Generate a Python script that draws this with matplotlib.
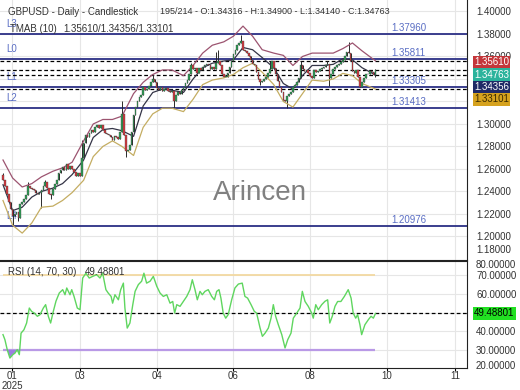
import matplotlib
matplotlib.use("Agg")
import matplotlib.pyplot as plt
import numpy as np

plt.rcParams["font.family"] = ["Liberation Sans", "DejaVu Sans"]

# ---- price data (daily candles, bar index 0..194) ----
first_open = 1.2550
closes = [
    1.2505, 1.2450, 1.2380, 1.2310, 1.2240, 1.2180, 1.2200, 1.2220, 1.2160, 1.2290,
    1.2310, 1.2330, 1.2370, 1.2450, 1.2430, 1.2420, 1.2410, 1.2390, 1.2380, 1.2390,
    1.2410, 1.2450, 1.2480, 1.2430, 1.2380, 1.2370, 1.2420, 1.2470, 1.2500, 1.2560,
    1.2590, 1.2620, 1.2590, 1.2640, 1.2600, 1.2630, 1.2600, 1.2570, 1.2540, 1.2560,
    1.2540, 1.2700, 1.2830, 1.2900, 1.2880, 1.2920, 1.2950, 1.2930, 1.2970, 1.2990,
    1.2960, 1.2990, 1.2950, 1.2920, 1.2910, 1.2900, 1.2880, 1.2860, 1.2890, 1.2880,
    1.2870, 1.2930, 1.3090, 1.2900, 1.2760, 1.2770, 1.2810, 1.2930, 1.3080, 1.3150,
    1.3200, 1.3240, 1.3260, 1.3330, 1.3300, 1.3310, 1.3340, 1.3370, 1.3400, 1.3370,
    1.3320, 1.3300, 1.3330, 1.3290, 1.3310, 1.3320, 1.3290, 1.3280, 1.3290, 1.3200,
    1.3260, 1.3280, 1.3270, 1.3300, 1.3330, 1.3360, 1.3390, 1.3440, 1.3520, 1.3490,
    1.3500, 1.3450, 1.3500, 1.3480, 1.3510, 1.3520, 1.3530, 1.3520, 1.3490, 1.3510,
    1.3490, 1.3540, 1.3560, 1.3520, 1.3440, 1.3420, 1.3420, 1.3450, 1.3510, 1.3560,
    1.3620, 1.3660, 1.3700, 1.3720, 1.3740, 1.3660, 1.3650, 1.3630, 1.3600, 1.3570,
    1.3530, 1.3520, 1.3460, 1.3400, 1.3370, 1.3380, 1.3400, 1.3420, 1.3450, 1.3490,
    1.3560, 1.3500, 1.3440, 1.3380, 1.3330, 1.3280, 1.3210, 1.3200, 1.3250, 1.3270,
    1.3280, 1.3330, 1.3350, 1.3370, 1.3410, 1.3520, 1.3490, 1.3470, 1.3480, 1.3450,
    1.3430, 1.3410, 1.3480, 1.3460, 1.3470, 1.3490, 1.3500, 1.3510, 1.3520, 1.3530,
    1.3410, 1.3440, 1.3490, 1.3510, 1.3520, 1.3530, 1.3550, 1.3570, 1.3600, 1.3640,
    1.3630, 1.3560, 1.3470, 1.3450, 1.3480, 1.3420, 1.3330, 1.3370, 1.3410, 1.3440,
    1.3445, 1.3470, 1.3460, 1.34316, 1.34763,
]
wick_highs = {0: 1.2560, 13: 1.2480, 22: 1.2500, 41: 1.2860, 62: 1.3205, 78: 1.3445,
              98: 1.3540, 111: 1.3640, 112: 1.3660, 124: 1.3789, 139: 1.3560,
              155: 1.3560, 169: 1.3560, 180: 1.3726, 194: 1.3490}
wick_lows = {5: 1.2100, 8: 1.2140, 20: 1.2250, 25: 1.2330, 64: 1.2708, 89: 1.3140,
             116: 1.3420, 134: 1.3350, 148: 1.3142, 170: 1.3335, 186: 1.3325,
             194: 1.3414}

# ---- TMAB(10) bands ----
band_bars = [0, 5, 10, 15, 20, 26, 31, 36, 42, 47, 52, 57, 62, 68, 73, 78, 83, 88, 94,
             99, 104, 109, 115, 120, 125, 130, 135, 141, 146, 151, 156, 161, 167, 172,
             177, 182, 187, 194]
upper_band = [1.268, 1.252, 1.244, 1.247, 1.253, 1.258, 1.261, 1.266, 1.285, 1.300,
              1.304, 1.304, 1.307, 1.327, 1.337, 1.344, 1.348, 1.348, 1.343, 1.352,
              1.363, 1.370, 1.373, 1.378, 1.387, 1.378, 1.366, 1.363, 1.361, 1.352,
              1.360, 1.363, 1.363, 1.363, 1.367, 1.372, 1.365, 1.3561]
mid_band = [1.246, 1.223, 1.226, 1.235, 1.240, 1.243, 1.247, 1.255, 1.268, 1.288,
            1.295, 1.296, 1.294, 1.289, 1.316, 1.328, 1.331, 1.330, 1.328, 1.340,
            1.350, 1.354, 1.356, 1.357, 1.368, 1.366, 1.359, 1.350, 1.336, 1.331,
            1.343, 1.352, 1.352, 1.353, 1.358, 1.357, 1.350, 1.34356]
lower_band = [1.232, 1.210, 1.203, 1.212, 1.226, 1.227, 1.232, 1.239, 1.250, 1.271,
              1.280, 1.285, 1.280, 1.272, 1.297, 1.309, 1.314, 1.314, 1.311, 1.322,
              1.335, 1.339, 1.341, 1.344, 1.350, 1.354, 1.346, 1.335, 1.320, 1.315,
              1.327, 1.339, 1.338, 1.340, 1.345, 1.343, 1.336, 1.33101]

# ---- RSI(14) ----
rsi_bars = [0, 1.0, 2.2, 3.6, 5.1, 6.3, 7.4, 8.5, 9.4, 10.9, 12.3, 13.7, 14.9, 16.3,
            17.9, 19.3, 21.0, 22.2, 23.6, 24.8, 26.2, 27.6, 29.3, 31.1, 32.3, 33.2,
            34.9, 35.8, 37.0, 38.7, 40.1, 41.5, 43.2, 44.9, 46.7, 48.8, 50.5, 51.9,
            53.6, 54.8, 56.3, 57.1, 58.3, 60.1, 61.3, 62.7, 63.5, 64.7, 66.1, 67.6,
            68.8, 70.5, 72.2, 73.4, 74.8, 76.6, 78.3, 80.1, 81.8, 83.5, 85.3, 87.0,
            88.4, 89.4, 90.5, 92.2, 93.9, 95.7, 97.4, 98.6, 100.0, 101.2, 102.6,
            103.8, 105.2, 106.9, 108.7, 110.1, 111.3, 112.5, 113.5, 114.7, 116.0,
            117.3, 119.1, 120.8, 122.6, 124.6, 126.0, 127.4, 129.2, 130.9, 132.1,
            133.9, 135.1, 136.5, 138.2, 139.6, 140.8, 142.0, 143.4, 145.2, 146.9,
            148.3, 150.0, 151.2, 153.0, 154.7, 155.9, 157.3, 159.0, 160.8, 161.6,
            162.9, 164.2, 166.0, 167.7, 169.1, 170.2, 171.5, 172.9, 174.3, 176.0,
            177.8, 179.8, 181.3, 182.4, 183.7, 184.7, 185.9, 186.8, 188.5, 190.3,
            191.7, 192.9, 194.0]
rsi_values = [38.2, 35.5, 30.2, 25.7, 27.5, 28.4, 30.2, 27.5, 39.0, 40.8, 44.4, 52.4,
              50.6, 49.7, 48.0, 48.9, 52.4, 54.2, 48.0, 44.4, 50.6, 56.1, 60.4, 62.2,
              59.5, 63.1, 59.5, 62.2, 58.6, 52.4, 51.5, 68.4, 71.0, 68.4, 69.3, 70.2,
              68.4, 71.0, 62.2, 60.4, 58.6, 55.0, 59.5, 56.8, 62.2, 65.7, 52.4, 41.7,
              44.4, 54.2, 61.3, 64.9, 66.7, 71.0, 65.7, 66.7, 69.3, 64.0, 60.4, 58.6,
              59.5, 55.0, 55.9, 49.7, 54.2, 53.3, 55.9, 58.6, 62.2, 67.5, 62.2, 56.8,
              61.3, 59.5, 61.3, 62.2, 58.6, 56.8, 61.3, 62.2, 57.7, 49.7, 47.0, 48.9,
              56.8, 63.1, 65.2, 65.7, 58.6, 57.7, 54.2, 50.6, 49.7, 41.7, 37.3, 39.0,
              41.7, 47.0, 54.2, 48.0, 43.5, 38.2, 31.1, 35.5, 39.0, 47.0, 49.7, 52.4,
              61.3, 55.9, 53.3, 49.7, 47.0, 54.2, 51.5, 54.2, 56.0, 56.8, 44.4, 48.0,
              53.3, 55.9, 55.9, 58.6, 62.2, 57.7, 49.7, 47.0, 48.9, 43.5, 38.2, 43.5,
              46.2, 48.0, 47.0, 49.49]
rsi_last = 49.48801

# ---- levels and labels ----
level_values = [1.37960, 1.35811, 1.33305, 1.31413, 1.20976]
level_names = ["L3", "L0", "L1", "L2", "L4"]
band_last = [1.35610, 1.34763, 1.34356, 1.33101]
tag_colors = ["#c4363a", "#2bb39c", "#1f2a66", "#d6a21e"]
tag_text_colors = ["white", "white", "white", "#3a2a00"]
tag_centers_px = [62, 74.5, 87, 99.5]
price_ticks = [1.20, 1.22, 1.24, 1.26, 1.28, 1.30, 1.32, 1.34, 1.36, 1.38, 1.40]
hidden_price_ticks = [1.32, 1.34]          # sit behind the value tags
rsi_ticks = [30, 40, 50, 60, 70]
hidden_rsi_ticks = [50]
x_tick_pos = [4.7, 40, 80, 120, 160, 200, 235.4]
x_tick_labels = ["01\n2025", "03", "04", "06", "08", "10", "11"]

W, H = 520, 390
fig = plt.figure(figsize=(W / 100, H / 100), dpi=100)


def px_rect(l, t, r, b):
    return [l / W, 1 - b / H, (r - l) / W, (b - t) / H]


ax = fig.add_axes(px_rect(0, 0, 467, 260))
ax_rsi = fig.add_axes(px_rect(0, 261, 467, 368), sharex=ax)

grid_col = "#e6e6e6"
txt_col = "#333333"

# candles
c = np.array(closes)
o = np.concatenate([[first_open], c[:-1]])
idx = np.arange(len(c))
hi = np.maximum(o, c)
lo = np.minimum(o, c)
for k, v in wick_highs.items():
    hi[k] = v
for k, v in wick_lows.items():
    lo[k] = v
up = c >= o
colors = np.where(up, "#2e9e55", "#d7393f")
ax.vlines(idx, lo, hi, color="#2a2a2a", lw=0.7, zorder=3)
ax.bar(idx, np.maximum(np.abs(c - o), 0.0006), bottom=np.minimum(o, c), width=0.85,
       color=colors, edgecolor="#3a3a3a", lw=0.25, zorder=3.5)

# bands
ax.plot(band_bars, upper_band, color="#9c5470", lw=0.9, zorder=3.2)
ax.plot(band_bars, mid_band, color="#343446", lw=0.9, zorder=3.2)
ax.plot(band_bars, lower_band, color="#c4ad62", lw=0.9, zorder=3.2)

# level lines
for lv, name in zip(level_values, level_names):
    ax.axhline(lv, color="#2b2f85", lw=1.3, zorder=2)
    ax.annotate(name, xy=(6 / 467, lv), xycoords=("axes fraction", "data"),
                xytext=(0, 10), textcoords="offset pixels", va="center",
                fontsize=7, color="#5a6ec4", zorder=2.5)
    ax.annotate(f"{lv:.5f}", xy=(391 / 467, lv), xycoords=("axes fraction", "data"),
                xytext=(0, 6), textcoords="offset pixels", va="center",
                fontsize=7, color="#5a6ec4", zorder=4)
for lv in band_last:
    ax.axhline(lv, color="black", lw=0.9, ls=(0, (3, 2)), zorder=2.6)

ax.set_xlim(-1.5625, 241.67)
ax.set_ylim(1.1791, 1.4102)
ax.set_yticks(price_ticks)
ax.set_yticklabels(["" if t in hidden_price_ticks else f"{t:.5f}" for t in price_ticks])
ax.yaxis.tick_right()
ax.tick_params(axis="y", length=0, pad=6.5, labelsize=7, labelcolor=txt_col)
ax.tick_params(axis="x", length=0, labelbottom=False)
ax.set_xticks(x_tick_pos)
ax.grid(True, color=grid_col, lw=0.8, zorder=0)
ax.set_axisbelow(True)
for s in ["top", "left"]:
    ax.spines[s].set_visible(False)
ax.spines["right"].set_color("#222222")
ax.spines["bottom"].set_color("#222222")

# RSI panel
ax_rsi.hlines(70, rsi_bars[0], rsi_bars[-1], color="#f3d9a2", lw=1.3, zorder=2)
ax_rsi.hlines(30, rsi_bars[0], rsi_bars[-1], color="#b999e6", lw=1.6, zorder=2)
rv = np.array(rsi_values)
ax_rsi.fill_between(rsi_bars, rv, 30, where=rv < 30, interpolate=True,
                    color="#9b7ee0", lw=0, zorder=2.5)
ax_rsi.plot(rsi_bars, rsi_values, color="#5fd65f", lw=1.0, zorder=3)
ax_rsi.axhline(rsi_last, color="black", lw=0.9, ls=(0, (3, 2)), zorder=2.6)
ax_rsi.set_ylim(20.4, 77.5)
ax_rsi.set_yticks(rsi_ticks)
ax_rsi.set_yticklabels(["" if t in hidden_rsi_ticks else f"{t:.5f}" for t in rsi_ticks])
ax_rsi.yaxis.tick_right()
ax_rsi.tick_params(axis="y", length=0, pad=6.5, labelsize=7, labelcolor=txt_col)
ax_rsi.set_xticks(x_tick_pos)
ax_rsi.set_xticklabels(x_tick_labels, linespacing=0.95)
ax_rsi.tick_params(axis="x", length=2, pad=0.5, labelsize=7, labelcolor=txt_col)
ax_rsi.grid(True, color=grid_col, lw=0.8, zorder=0)
ax_rsi.set_axisbelow(True)
ax_rsi.spines["left"].set_visible(False)
for s in ["top", "right", "bottom"]:
    ax_rsi.spines[s].set_color("#222222")


def ftext(x, y, s, **kw):
    kw.setdefault("fontsize", 7)
    kw.setdefault("color", txt_col)
    kw.setdefault("va", "center")
    return fig.text(x / W, 1 - y / H, s, **kw)


# headers
ftext(8, 12, "GBPUSD - Daily - Candlestick")
ftext(160, 12, "195/214 - O:1.34316 - H:1.34900 - L:1.34140 - C:1.34763", fontsize=6.5)
ftext(10, 29, "TMAB (10)")
ftext(63, 29, "1.35610/1.34356/1.33101")
ftext(8, 272, "RSI (14, 70, 30)")
ftext(85, 272, "49.48801")
ftext(260, 193, "Arincen", fontsize=20, color="#808080", ha="center")

# axis labels squeezed at the panel edges
ftext(476, 250, "1.18000")
ftext(476, 265, "80.00000")
ftext(476, 366, "20.00000")

# value tags on the right
for val, fc, tc, yc in zip(band_last, tag_colors, tag_text_colors, tag_centers_px):
    ftext(474, yc, f"{val:.5f}", color=tc, zorder=10,
          bbox=dict(boxstyle="square,pad=0.14", fc=fc, ec="none"))
ftext(474, 313.5, f"{rsi_last:.5f}", color="black", zorder=10,
      bbox=dict(boxstyle="square,pad=0.14", fc="#22e022", ec="none"))

fig.savefig("out.png", dpi=100)
